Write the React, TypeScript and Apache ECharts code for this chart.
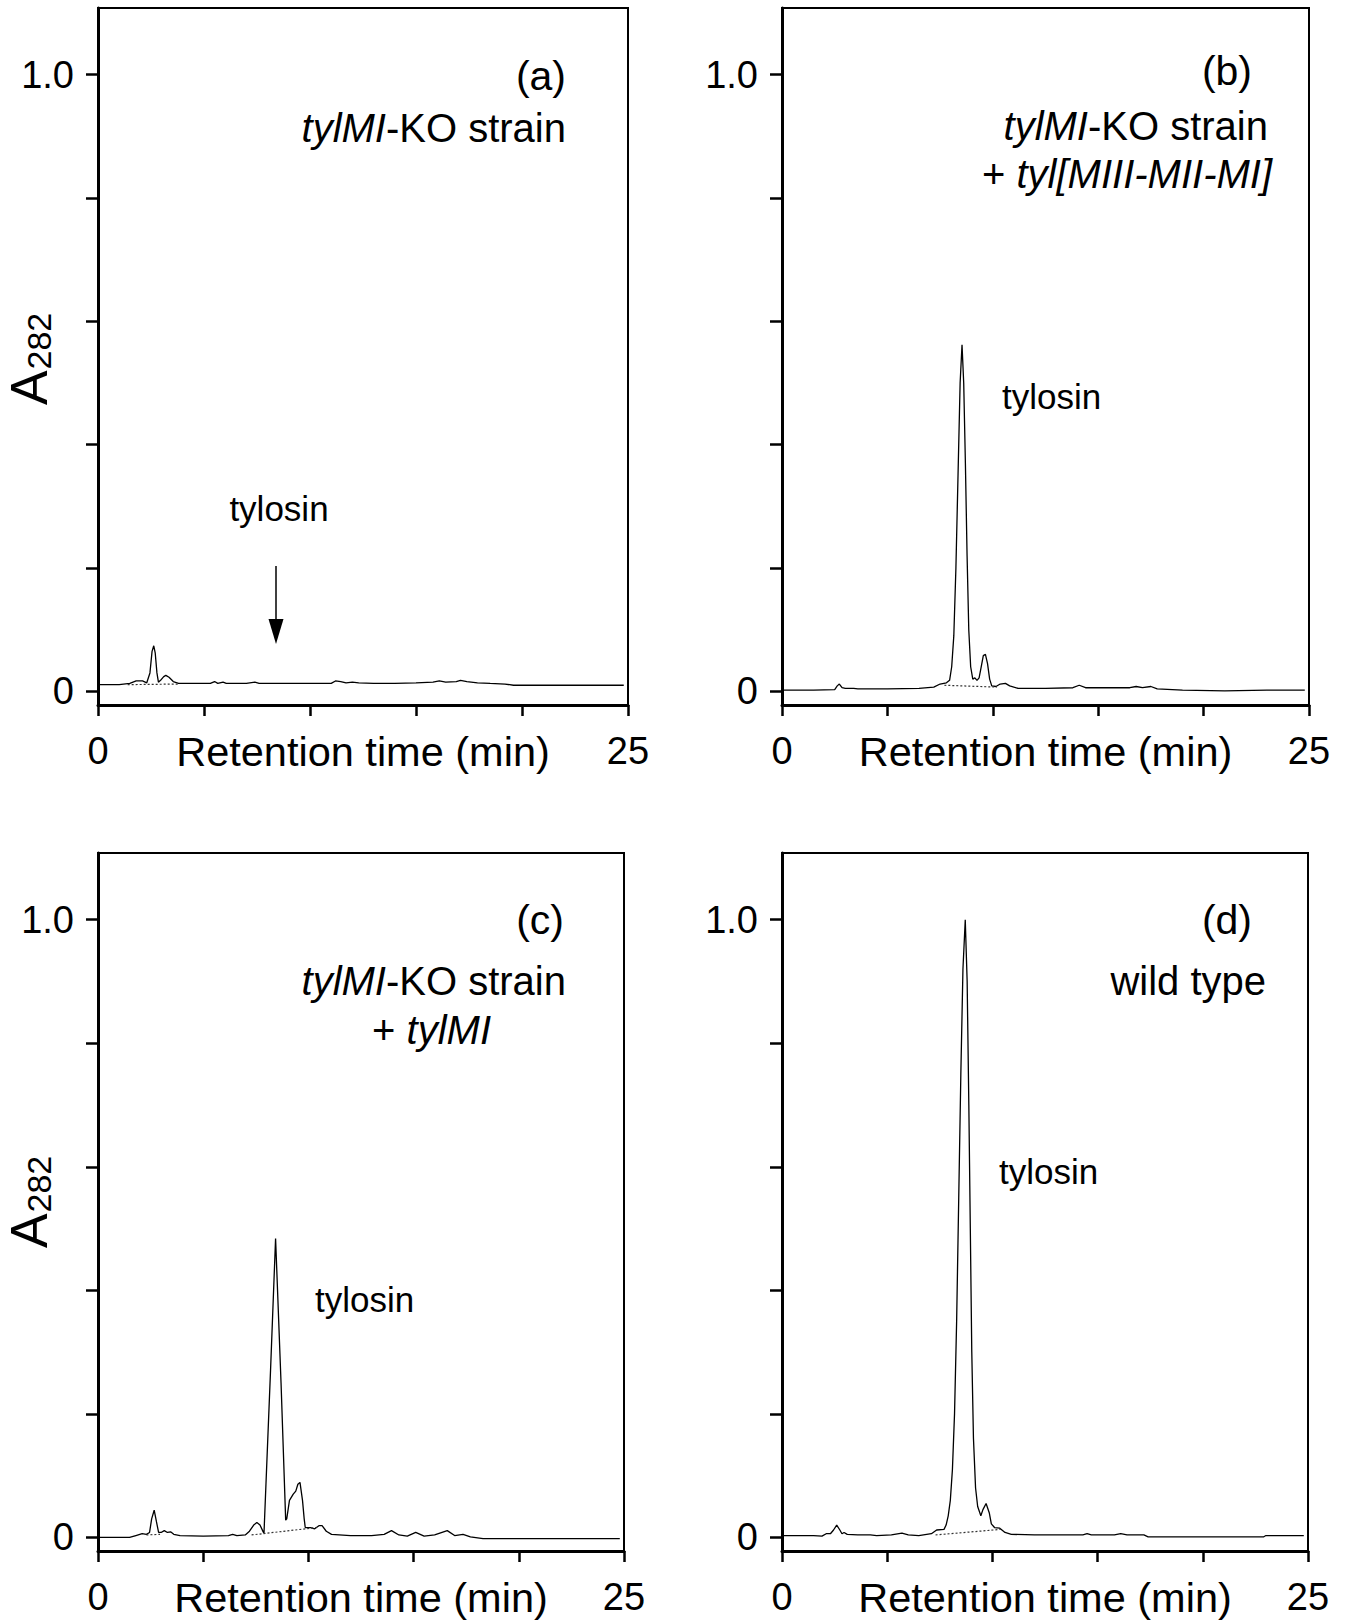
import React, { useEffect, useRef } from "react";
import * as echarts from "echarts";

const FONT = '"Liberation Sans", Arial, Helvetica, sans-serif';

// Retention time (min), A282
const TRACE_A: number[][] = [
  [0, 0.011], [1.0, 0.011], [1.5, 0.013], [1.8, 0.017], [2.1, 0.017], [2.3, 0.014],
  [2.45, 0.03], [2.55, 0.065], [2.63, 0.074], [2.7, 0.062], [2.78, 0.03], [2.85, 0.015],
  [2.95, 0.018], [3.1, 0.024], [3.2, 0.026], [3.35, 0.023], [3.55, 0.016], [3.8, 0.013],
  [4.5, 0.013], [5.3, 0.013], [5.5, 0.016], [5.65, 0.013], [5.9, 0.015], [6.05, 0.013],
  [7.0, 0.013], [7.4, 0.015], [7.6, 0.013], [9.0, 0.013], [11.0, 0.013], [11.2, 0.017],
  [11.45, 0.016], [11.7, 0.014], [12.0, 0.015], [12.3, 0.014], [13.0, 0.013], [14.0, 0.013],
  [15.0, 0.014], [15.8, 0.015], [16.1, 0.017], [16.4, 0.015], [16.9, 0.016], [17.1, 0.018],
  [17.4, 0.016], [17.9, 0.014], [18.5, 0.013], [19.2, 0.012], [19.6, 0.01], [21.0, 0.01],
  [23.0, 0.01], [24.8, 0.01],
];
const BASE_A: number[][] = [[1.4, 0.011], [3.8, 0.012]];

const TRACE_B: number[][] = [
  [0, 0.002], [1.5, 0.002], [2.5, 0.003], [2.62, 0.009], [2.72, 0.012], [2.85, 0.006],
  [3.0, 0.005], [3.4, 0.005], [3.6, 0.004], [5.0, 0.004], [6.5, 0.005], [7.2, 0.007],
  [7.5, 0.012], [7.8, 0.014], [7.95, 0.018], [8.05, 0.04], [8.15, 0.09], [8.25, 0.2],
  [8.35, 0.35], [8.45, 0.5], [8.54, 0.562], [8.62, 0.5], [8.7, 0.37], [8.78, 0.22],
  [8.86, 0.1], [8.95, 0.04], [9.05, 0.02], [9.15, 0.022], [9.25, 0.018], [9.35, 0.022],
  [9.45, 0.04], [9.55, 0.058], [9.65, 0.06], [9.75, 0.045], [9.85, 0.02], [9.95, 0.009],
  [10.15, 0.008], [10.35, 0.012], [10.6, 0.013], [10.8, 0.009], [11.2, 0.005], [12.5, 0.005],
  [13.8, 0.006], [14.1, 0.01], [14.4, 0.006], [15.5, 0.006], [16.5, 0.006], [16.8, 0.008],
  [17.1, 0.006], [17.5, 0.008], [17.8, 0.004], [19.0, 0.002], [21.0, 0.001], [23.0, 0.002],
  [24.8, 0.002],
];
const BASE_B: number[][] = [[7.7, 0.01], [10.2, 0.007]];

const TRACE_C: number[][] = [
  [0, 0.0], [1.5, 0.0], [1.8, 0.003], [2.1, 0.006], [2.3, 0.005], [2.45, 0.008],
  [2.55, 0.03], [2.67, 0.044], [2.78, 0.025], [2.88, 0.008], [3.0, 0.008], [3.15, 0.011],
  [3.3, 0.008], [3.45, 0.009], [3.6, 0.005], [3.9, 0.003], [5.0, 0.002], [6.2, 0.003],
  [6.4, 0.005], [6.6, 0.003], [7.0, 0.004], [7.2, 0.01], [7.4, 0.02], [7.55, 0.024],
  [7.7, 0.02], [7.85, 0.009], [7.89, 0.007], [8.2, 0.27], [8.44, 0.484], [8.7, 0.25],
  [8.92, 0.028], [8.97, 0.03], [9.1, 0.06], [9.28, 0.07], [9.4, 0.075], [9.5, 0.086],
  [9.6, 0.089], [9.72, 0.06], [9.8, 0.03], [9.85, 0.016], [9.95, 0.016], [10.1, 0.016],
  [10.3, 0.014], [10.5, 0.019], [10.65, 0.019], [10.85, 0.01], [11.1, 0.005], [12.0, 0.003],
  [13.0, 0.003], [13.6, 0.005], [13.95, 0.011], [14.3, 0.004], [14.7, 0.002], [15.1, 0.008],
  [15.5, 0.002], [16.0, 0.004], [16.6, 0.011], [16.95, 0.003], [17.35, 0.005], [17.7, 0.001],
  [18.3, -0.002], [20.0, -0.002], [22.0, -0.002], [24.8, -0.002],
];
const BASE_C: number[][] = [[7.3, 0.004], [10.4, 0.016]];
const BASE_C2: number[][] = [[2.3, 0.004], [2.95, 0.005]];

const TRACE_D: number[][] = [
  [0, 0.003], [1.5, 0.003], [1.9, 0.002], [2.1, 0.006], [2.3, 0.006], [2.45, 0.012],
  [2.6, 0.02], [2.75, 0.012], [2.85, 0.006], [2.95, 0.008], [3.1, 0.005], [3.6, 0.004],
  [4.2, 0.004], [4.5, 0.003], [5.2, 0.004], [5.7, 0.007], [6.0, 0.004], [6.5, 0.003],
  [7.1, 0.006], [7.35, 0.012], [7.7, 0.013], [7.8, 0.02], [7.9, 0.035], [8.0, 0.06],
  [8.1, 0.11], [8.2, 0.2], [8.3, 0.35], [8.4, 0.55], [8.5, 0.75], [8.6, 0.92],
  [8.71, 1.0], [8.8, 0.9], [8.88, 0.7], [8.95, 0.5], [9.02, 0.3], [9.1, 0.16],
  [9.2, 0.08], [9.3, 0.05], [9.45, 0.035], [9.55, 0.045], [9.7, 0.055], [9.85, 0.04],
  [9.95, 0.022], [10.1, 0.016], [10.35, 0.015], [10.6, 0.008], [10.9, 0.005], [12.0, 0.004],
  [13.0, 0.004], [14.3, 0.004], [14.5, 0.006], [14.7, 0.004], [15.8, 0.004], [16.1, 0.006],
  [16.4, 0.004], [17.2, 0.004], [17.4, 0.001], [19.0, 0.001], [21.0, 0.001], [22.9, 0.001],
  [23.0, 0.003], [24.8, 0.003],
];
const BASE_D: number[][] = [[7.3, 0.004], [10.4, 0.013]];

const Y_TICKS = [0, 0.2, 0.4, 0.6, 0.8, 1.0];
const Y_LABELS = [0, 1.0];
const X_LABELS = [0, 25];
const X_NAME = "Retention time (min)";

const GRIDS = [
  { left: 98, top: 8, width: 530, height: 697 },
  { left: 782, top: 8, width: 527, height: 697 },
  { left: 98, top: 853, width: 526, height: 698 },
  { left: 782, top: 853, width: 526, height: 698 },
];

function txt(x: number, y: number, text: string, size: number, align: string, rich?: any) {
  return {
    type: "text",
    x,
    y,
    silent: true,
    style: {
      text,
      fontSize: size,
      fontFamily: FONT,
      fill: "#000",
      align,
      verticalAlign: "middle",
      rich,
    },
  };
}

const richStyles = (size: number) => ({
  i: { fontSize: size, fontFamily: FONT, fontStyle: "italic", fill: "#000" },
  r: { fontSize: size, fontFamily: FONT, fill: "#000" },
});

function a282(gy: number) {
  return {
    type: "group",
    x: 55,
    y: gy,
    rotation: Math.PI / 2,
    silent: true,
    children: [
      { type: "text", x: 0, y: 0, style: { text: "A", fontSize: 52, fontFamily: FONT, fill: "#000", align: "left", verticalAlign: "bottom" } },
      { type: "text", x: 35.5, y: 1, style: { text: "282", fontSize: 34, fontFamily: FONT, fill: "#000", align: "left", verticalAlign: "bottom" } },
    ],
  };
}

export default function App() {
  const ref = useRef<HTMLDivElement>(null);
  useEffect(() => {
    if (!ref.current) return;
    const chart = echarts.init(ref.current, null, { renderer: "svg" });
    const traces = [TRACE_A, TRACE_B, TRACE_C, TRACE_D];
    const bases = [[BASE_A], [BASE_B], [BASE_C, BASE_C2], [BASE_D]];
    const series: any[] = [];
    traces.forEach((d, i) => {
      series.push({
        type: "line",
        xAxisIndex: i,
        yAxisIndex: i,
        data: d,
        symbol: "none",
        silent: true,
        lineStyle: { color: "#000", width: 1.3 },
      });
      bases[i].forEach((b) =>
        series.push({
          type: "line",
          xAxisIndex: i,
          yAxisIndex: i,
          data: b,
          symbol: "none",
          silent: true,
          lineStyle: { color: "#333", width: 1.2, type: [2, 2] },
        })
      );
    });
    const rs = richStyles(40);
    const option: any = {
      animation: false,
      grid: GRIDS.map((g) => ({ ...g, show: true, borderColor: "#000", borderWidth: 2, containLabel: false })),
      xAxis: GRIDS.map((_, i) => ({
        type: "value",
        gridIndex: i,
        min: 0,
        max: 25,
        interval: 5,
        position: "bottom",
        splitLine: { show: false },
        axisLine: { show: true, onZero: false, lineStyle: { color: "#000", width: 3 } },
        axisTick: { show: true, inside: false, length: 11, lineStyle: { color: "#000", width: 2.5 } },
        axisLabel: {
          show: true,
          customValues: X_LABELS,
          formatter: (v: number) => (X_LABELS.includes(v) ? String(v) : ""),
          margin: 27,
          fontSize: 38,
          fontFamily: FONT,
          color: "#000",
        },
        name: X_NAME,
        nameLocation: "middle",
        nameGap: 25,
        nameMoveOverlap: false,
        nameTextStyle: { fontSize: 41.5, fontFamily: FONT, color: "#000" },
      })),
      yAxis: GRIDS.map((_, i) => ({
        type: "value",
        gridIndex: i,
        min: -0.022,
        max: 1.108,
        position: "left",
        splitLine: { show: false },
        axisLine: { show: true, onZero: false, lineStyle: { color: "#000", width: 3 } },
        axisTick: { show: true, inside: false, length: 12, customValues: Y_TICKS, lineStyle: { color: "#000", width: 2.5 } },
        axisLabel: {
          show: true,
          customValues: Y_LABELS,
          formatter: (v: number) => (Math.abs(v - 1) < 1e-6 ? "1.0" : Math.abs(v) < 1e-6 ? "0" : ""),
          margin: 24,
          fontSize: 38,
          fontFamily: FONT,
          color: "#000",
        },
      })),
      series,
      graphic: [
        // panel (a)
        txt(566, 76, "(a)", 41, "right"),
        txt(566, 128, "{i|tylMI}{r|-KO strain}", 40, "right", rs),
        txt(279, 508, "tylosin", 35, "center"),
        { type: "line", silent: true, shape: { x1: 276, y1: 566, x2: 276, y2: 625 }, style: { stroke: "#000", lineWidth: 1.5 } },
        { type: "polygon", silent: true, shape: { points: [[268.5, 619], [283.5, 619], [276, 644]] }, style: { fill: "#000" } },
        a282(405),
        // panel (b)
        txt(1252, 71, "(b)", 41, "right"),
        txt(1268, 126, "{i|tylMI}{r|-KO strain}", 40, "right", rs),
        txt(1272, 174, "{r|+ }{i|tyl[MIII-MII-MI]}", 40, "right", rs),
        txt(1002, 396, "tylosin", 35, "left"),
        // panel (c)
        txt(564, 920, "(c)", 41, "right"),
        txt(566, 981, "{i|tylMI}{r|-KO strain}", 40, "right", rs),
        txt(491, 1030, "{r|+ }{i|tylMI}", 40, "right", rs),
        txt(315, 1299, "tylosin", 35, "left"),
        a282(1248),
        // panel (d)
        txt(1252, 920, "(d)", 41, "right"),
        txt(1266, 981, "wild type", 40, "right"),
        txt(999, 1171, "tylosin", 35, "left"),
      ],
    };
    chart.setOption(option);
    return () => chart.dispose();
  }, []);
  return (
    <div
      ref={ref}
      style={{ position: "absolute", left: 0, top: 0, width: 1349, height: 1620, background: "#fff" }}
    />
  );
}
